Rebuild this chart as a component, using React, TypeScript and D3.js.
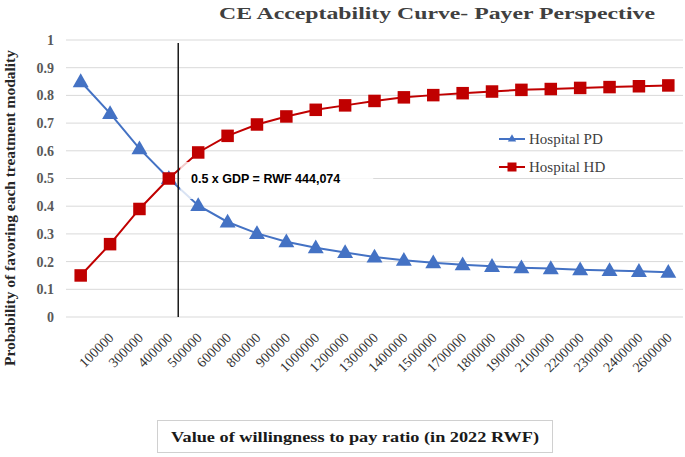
import React from "react";
import * as d3 from "d3";

const categories = ["", "100000", "300000", "400000", "500000", "600000", "800000", "900000", "1000000", "1200000", "1300000", "1400000", "1500000", "1700000", "1800000", "1900000", "2100000", "2200000", "2300000", "2400000", "2600000"];
const pdValues = [0.85, 0.735, 0.608, 0.5, 0.403, 0.343, 0.302, 0.272, 0.25, 0.233, 0.217, 0.205, 0.196, 0.189, 0.183, 0.178, 0.175, 0.171, 0.168, 0.165, 0.162];
const hdValues = [0.15, 0.263, 0.39, 0.5, 0.594, 0.654, 0.695, 0.724, 0.748, 0.764, 0.78, 0.793, 0.801, 0.808, 0.814, 0.82, 0.823, 0.827, 0.83, 0.833, 0.836];
const yTicks = [0, 0.1, 0.2, 0.3, 0.4, 0.5, 0.6, 0.7, 0.8, 0.9, 1];
const thresholdPosition = 3.32; // category position of the 444,074 marker line
const titleText = "CE Acceptability Curve- Payer Perspective";
const yTitle = "Probability of favoring each treatment modality";
const xTitle = "Value of willingness to pay ratio (in 2022 RWF)";
const annotation = "0.5 x GDP = RWF 444,074";
const seriesNames = ["Hospital PD", "Hospital HD"];

const W = 685, H = 457;
const M = { left: 66, right: 683, top: 40, bottom: 317 };
const BLUE = "#4472C4";
const RED = "#C00000";
const SERIF = "'Liberation Serif', 'DejaVu Serif', serif";

export default function App() {
  const x = d3.scaleBand<number>().domain(categories.map((_, i) => i)).range([M.left, M.right]);
  const cx = (i: number) => (x(i) as number) + x.bandwidth() / 2;
  const y = d3.scaleLinear().domain([0, 1]).range([M.bottom, M.top]);
  const line = d3.line<number>().x((_, i) => cx(i)).y((d) => y(d));
  const tri = d3.symbol().type(d3.symbolTriangle).size(110)();
  const sq = 12.5;
  const vx = cx(0) + thresholdPosition * x.bandwidth();

  return (
    <svg width={W} height={H} style={{ position: "absolute", left: 0, top: 0, background: "#fff" }}>
      <text x={437} y={19} textAnchor="middle" fontFamily={SERIF} fontWeight="bold" fontSize={17.5} fill="#404040" textLength={436} lengthAdjust="spacingAndGlyphs">{titleText}</text>
      {yTicks.map((t) => (
        <g key={t}>
          <line x1={M.left} x2={M.right} y1={y(t)} y2={y(t)} stroke="#d9d9d9" strokeWidth={1} />
          <text x={54} y={y(t)} dy="0.35em" textAnchor="end" fontFamily={SERIF} fontWeight="bold" fontSize={14} fill="#595959">{d3.format("")(+t.toFixed(1))}</text>
        </g>
      ))}
      <text transform={`translate(15,${208}) rotate(-90)`} textAnchor="middle" fontFamily={SERIF} fontWeight="bold" fontSize={14} fill="#262626" textLength={316} lengthAdjust="spacingAndGlyphs">{yTitle}</text>
      {categories.map((c, i) => (
        <text key={i} transform={`translate(${cx(i) + 1},${335}) rotate(-45)`} textAnchor="end" dy="0.35em" fontFamily={SERIF} fontSize={14} fill="#333333">{c}</text>
      ))}
      <path d={line(pdValues) as string} fill="none" stroke={BLUE} strokeWidth={2} />
      <path d={line(hdValues) as string} fill="none" stroke={RED} strokeWidth={2} />
      <rect x={vx + 2} y={162} width={193} height={37} fill="#fff" opacity={0.8} />
      <text x={191} y={183} fontFamily="'Liberation Sans', Arial, sans-serif" fontWeight="bold" fontSize={12.5} fill="#000">{annotation}</text>
      {pdValues.map((v, i) => (
        <path key={"p" + i} d={tri as string} transform={`translate(${cx(i)},${y(v) + 1})`} fill={BLUE} />
      ))}
      {hdValues.map((v, i) => (
        <rect key={"h" + i} x={cx(i) - sq / 2} y={y(v) - sq / 2} width={sq} height={sq} fill={RED} />
      ))}
      <line x1={vx} x2={vx} y1={43} y2={M.bottom} stroke="#1a1a1a" strokeWidth={1.5} />
      {seriesNames.map((n, k) => (
        <g key={n} transform={`translate(499,${139 + k * 28})`}>
          <line x1={0} x2={26} y1={0} y2={0} stroke={k === 0 ? BLUE : RED} strokeWidth={2} />
          {k === 0 ? (
            <path d={d3.symbol().type(d3.symbolTriangle).size(30)() as string} transform="translate(13,0)" fill={BLUE} />
          ) : (
            <rect x={13 - 4.5} y={-4.5} width={9} height={9} fill={RED} />
          )}
          <text x={30} y={0} dy="0.35em" fontFamily={SERIF} fontSize={15} fill="#404040">{n}</text>
        </g>
      ))}
      <rect x={157.5} y={420.5} width={395} height={32} fill="#fff" stroke="#d0d0d0" strokeWidth={1} />
      <text x={355} y={442} textAnchor="middle" fontFamily={SERIF} fontWeight="bold" fontSize={15.5} fill="#1a1a1a" textLength={368} lengthAdjust="spacingAndGlyphs">{xTitle}</text>
    </svg>
  );
}
